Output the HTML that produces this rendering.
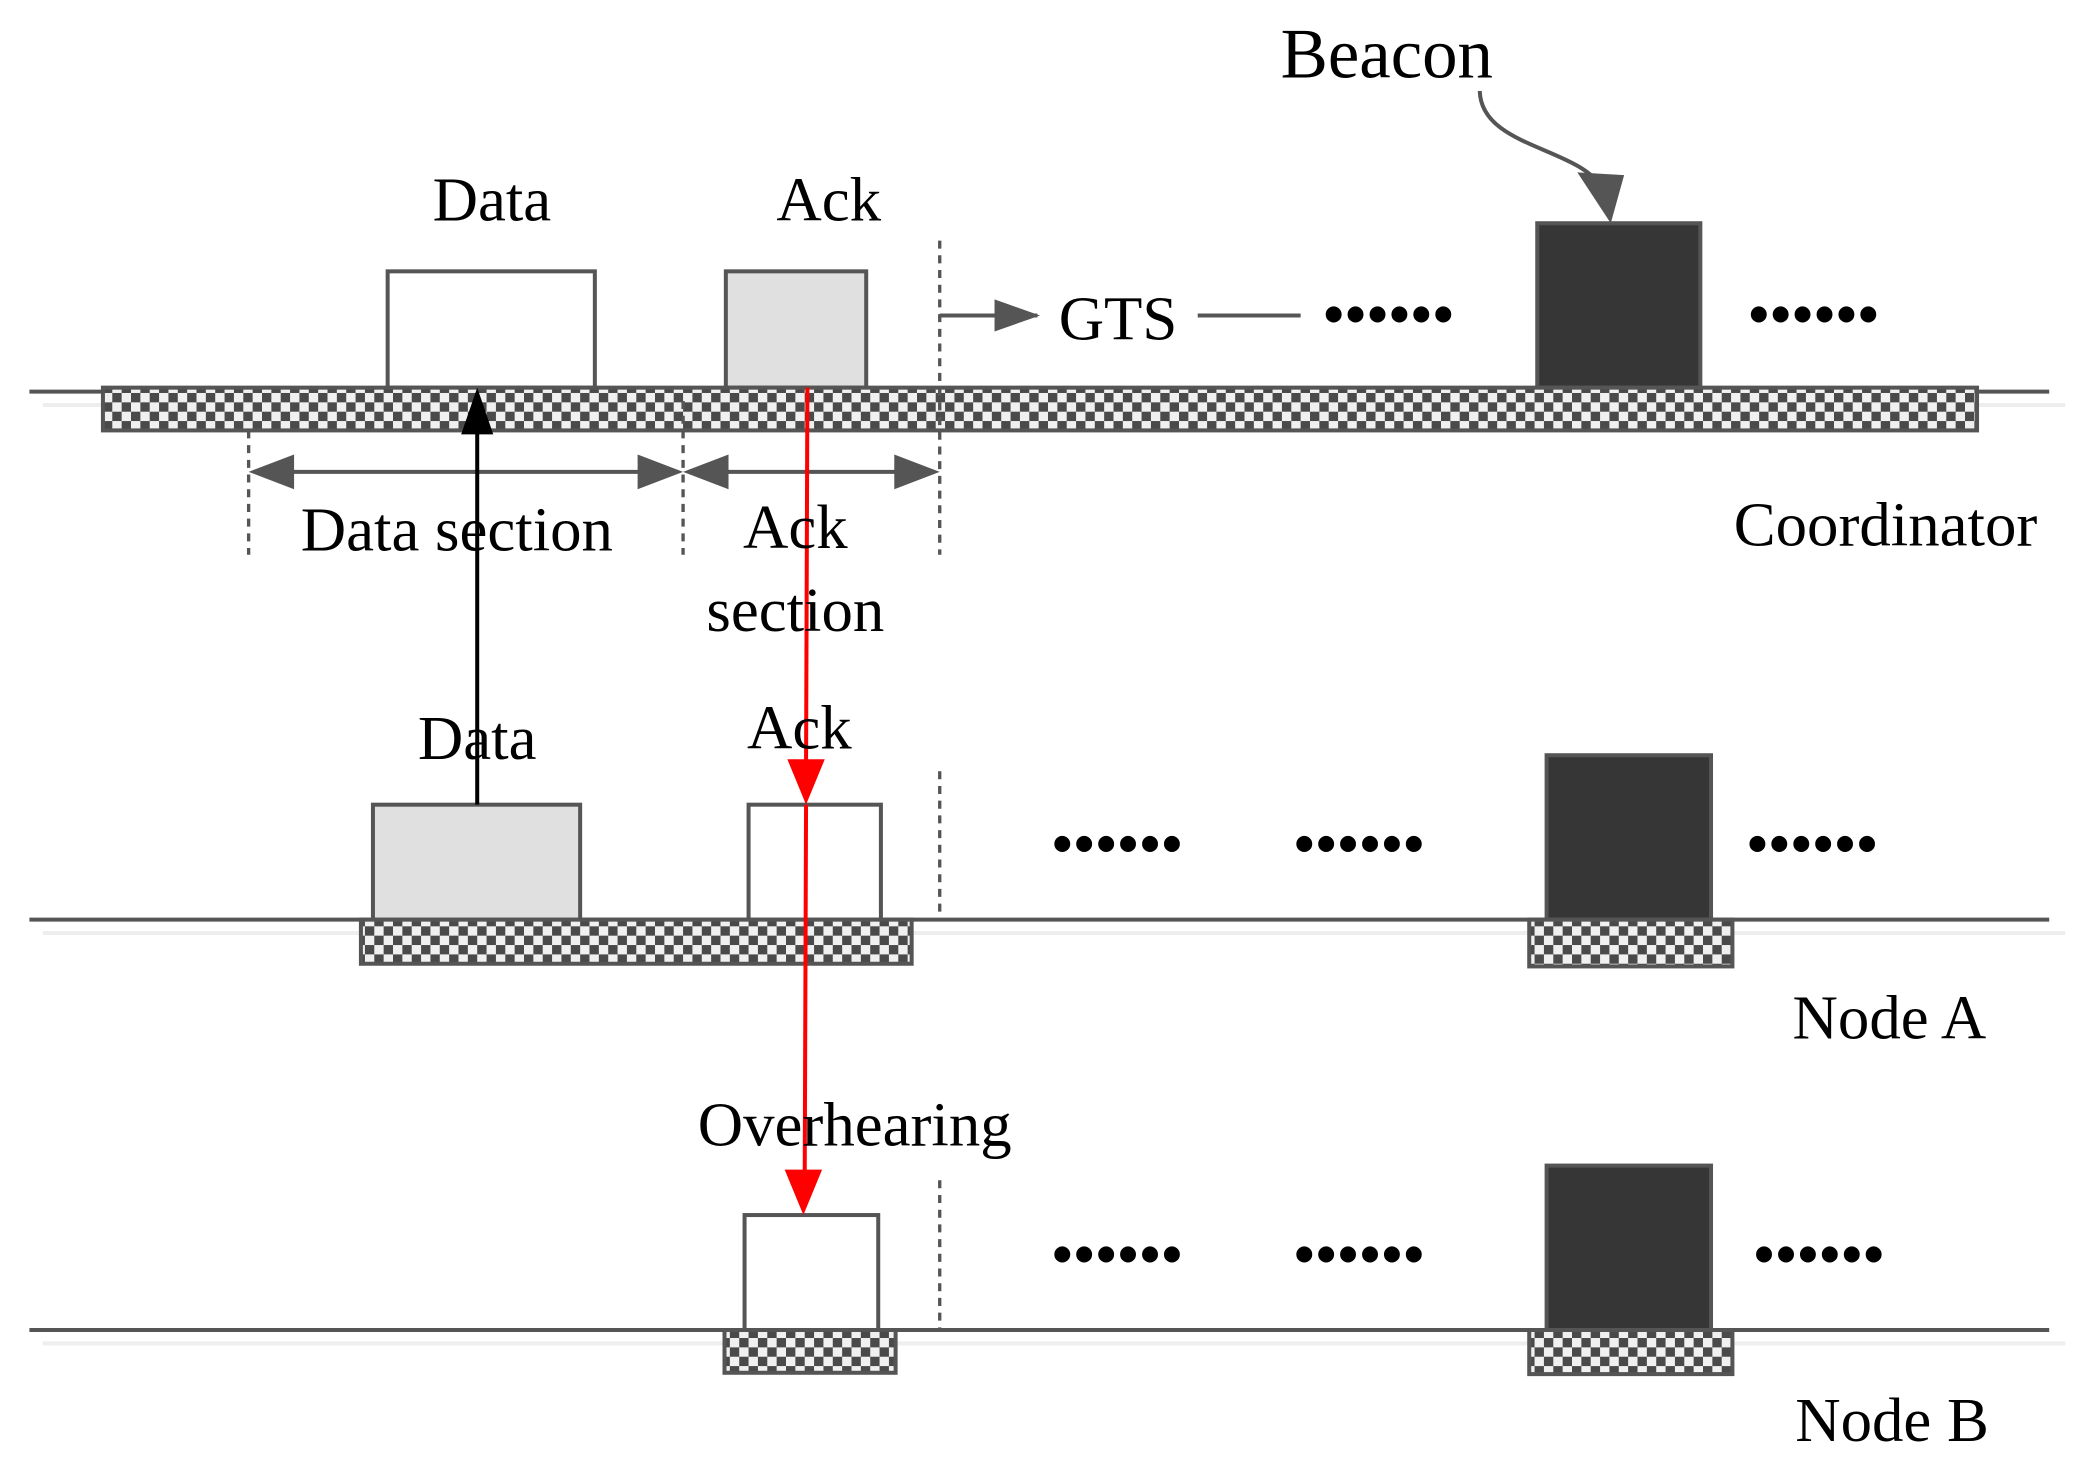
<!DOCTYPE html>
<html><head><meta charset="utf-8"><style>html,body{margin:0;padding:0;background:#fff}svg{display:block}</style></head>
<body>
<svg width="2096" height="1463" viewBox="0 0 1568 1094.5" preserveAspectRatio="none" xmlns="http://www.w3.org/2000/svg" font-family="Liberation Serif, serif">
<defs>
<pattern id="ck" width="14" height="14" patternUnits="userSpaceOnUse">
<rect width="14" height="14" fill="#f0f0f0"/>
<rect width="7" height="7" fill="#4a4a4a"/><rect x="7" y="7" width="7" height="7" fill="#4a4a4a"/>
</pattern>
<marker id="ag" markerWidth="10" markerHeight="10" refX="9" refY="5" orient="auto" markerUnits="userSpaceOnUse" viewBox="0 0 10 10"><path d="M0,0L10,5L0,10z" fill="#555"/></marker>
</defs>
<g stroke="#555" stroke-width="3">
<!-- baselines -->
<line x1="22" y1="293" x2="1533" y2="293"/>
<line x1="22" y1="688" x2="1533" y2="688"/>
<line x1="22" y1="995" x2="1533" y2="995"/>
</g>
<g stroke="#eee" stroke-width="3">
<line x1="32" y1="303" x2="1545" y2="303"/>
<line x1="32" y1="698" x2="1545" y2="698"/>
<line x1="32" y1="1005" x2="1545" y2="1005"/>
</g>
<!-- coordinator -->
<rect x="290" y="203" width="155" height="87" fill="#fff" stroke="#555" stroke-width="3"/>
<rect x="543" y="203" width="105" height="87" fill="#e0e0e0" stroke="#555" stroke-width="3"/>
<rect x="1150" y="167" width="122" height="123" fill="#363636" stroke="#555" stroke-width="3"/>
<rect x="77" y="290" width="1402" height="32" fill="url(#ck)" stroke="#555" stroke-width="3"/>
<g stroke="#555" stroke-width="2.5" stroke-dasharray="6,5">
<line x1="703" y1="180" x2="703" y2="415"/>
<line x1="186" y1="322" x2="186" y2="415"/>
<line x1="511" y1="300" x2="511" y2="415"/>
<line x1="703" y1="577" x2="703" y2="688"/>
<line x1="703" y1="883" x2="703" y2="995"/>
</g>
<line x1="703" y1="236" x2="776" y2="236" stroke="#555" stroke-width="3"/>
<path d="M778,236L744,224L744,248z" fill="#555"/>
<line x1="896" y1="236" x2="973" y2="236" stroke="#555" stroke-width="3"/>
<!-- double arrows -->
<line x1="190" y1="353" x2="507" y2="353" stroke="#555" stroke-width="3"/>
<line x1="515" y1="353" x2="699" y2="353" stroke="#555" stroke-width="3"/>
<path d="M186,353L220,340L220,366z M511,353L477,340L477,366z M511,353L545,340L545,366z M703,353L669,340L669,366z" fill="#555"/>
<!-- beacon arrow -->
<path d="M1107,68 C1108,110 1180,110 1198,140" fill="none" stroke="#555" stroke-width="3"/>
<path d="M1205,167L1180,129L1215,131z" fill="#555"/>
<!-- node A -->
<rect x="279" y="602" width="155" height="86" fill="#e0e0e0" stroke="#555" stroke-width="3"/>
<rect x="560" y="602" width="99" height="86" fill="#fff" stroke="#555" stroke-width="3"/>
<rect x="1157" y="565" width="123" height="123" fill="#363636" stroke="#555" stroke-width="3"/>
<rect x="270" y="688" width="412" height="33" fill="url(#ck)" stroke="#555" stroke-width="3"/>
<rect x="1144" y="688" width="152" height="35" fill="url(#ck)" stroke="#555" stroke-width="3"/>
<!-- node B -->
<rect x="557" y="909" width="100" height="86" fill="#fff" stroke="#555" stroke-width="3"/>
<rect x="1157" y="872" width="123" height="123" fill="#363636" stroke="#555" stroke-width="3"/>
<rect x="542" y="995" width="128" height="32" fill="url(#ck)" stroke="#555" stroke-width="3"/>
<rect x="1144" y="995" width="152" height="33" fill="url(#ck)" stroke="#555" stroke-width="3"/>
<!-- black arrow -->
<line x1="357" y1="602" x2="357" y2="320" stroke="#000" stroke-width="3"/>
<path d="M357,290L345,325L369,325z" fill="#000"/>
<!-- red arrows -->
<line x1="604" y1="290" x2="603" y2="575" stroke="#f00" stroke-width="3"/>
<path d="M603,602L589,568L617,568z" fill="#f00"/>
<line x1="603" y1="602" x2="602" y2="880" stroke="#f00" stroke-width="3"/>
<path d="M601,909L587,875L615,875z" fill="#f00"/>
<!-- dots -->
<g fill="#000" font-size="44" font-weight="bold">
<text x="990" y="250" letter-spacing="1">••••••</text>
<text x="1308" y="250" letter-spacing="1">••••••</text>
<text x="787" y="646" letter-spacing="1">••••••</text>
<text x="968" y="646" letter-spacing="1">••••••</text>
<text x="1307" y="646" letter-spacing="1">••••••</text>
<text x="787" y="953" letter-spacing="1">••••••</text>
<text x="968" y="953" letter-spacing="1">••••••</text>
<text x="1312" y="953" letter-spacing="1">••••••</text>
</g>
<!-- labels -->
<g fill="#000" font-size="47">
<text x="958" y="58" font-size="53">Beacon</text>
<text x="368" y="165" text-anchor="middle">Data</text>
<text x="620" y="165" text-anchor="middle">Ack</text>
<text x="792" y="254">GTS</text>
<text x="225" y="412">Data section</text>
<text x="595" y="410" text-anchor="middle">Ack</text>
<text x="595" y="472" text-anchor="middle">section</text>
<text x="1297" y="408">Coordinator</text>
<text x="357" y="568" text-anchor="middle">Data</text>
<text x="598" y="560" text-anchor="middle">Ack</text>
<text x="1341" y="777">Node A</text>
<text x="522" y="857">Overhearing</text>
<text x="1343" y="1078">Node B</text>
</g>
</svg>
</body></html>
